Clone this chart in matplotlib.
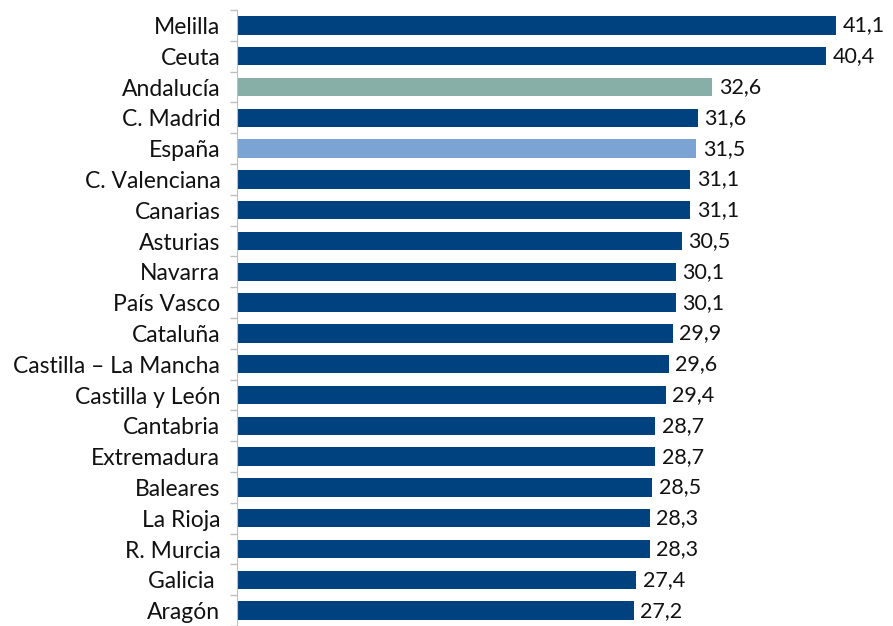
import numpy as np
import matplotlib.pyplot as plt
from matplotlib.ticker import FixedLocator

regions = ['Melilla', 'Ceuta', 'Andalucía', 'C. Madrid', 'España', 'C. Valenciana',
           'Canarias', 'Asturias', 'Navarra', 'País Vasco', 'Cataluña',
           'Castilla – La Mancha', 'Castilla y León', 'Cantabria', 'Extremadura',
           'Baleares', 'La Rioja', 'R. Murcia', 'Galicia ', 'Aragón']
values = [41.1, 40.4, 32.6, 31.6, 31.5, 31.1, 31.1, 30.5, 30.1, 30.1, 29.9,
          29.6, 29.4, 28.7, 28.7, 28.5, 28.3, 28.3, 27.4, 27.2]

navy = '#00427F'
colors = [navy] * len(regions)
colors[regions.index('Andalucía')] = '#87AEA7'
colors[regions.index('España')] = '#7BA3D3'

plt.rcParams['font.family'] = ['Lato', 'DejaVu Sans']

fig = plt.figure(figsize=(8.93, 6.26), dpi=100)
ax = fig.add_axes([237 / 893, 0.0, 1 - 237 / 893, 1 - 10 / 626])

y = np.arange(len(regions))
ax.barh(y, values, height=0.6, color=colors)
for yi, v in zip(y, values):
    ax.text(v + 0.45, yi, f'{v:.1f}'.replace('.', ','), va='center', ha='left',
            fontsize=15.5, color='#111111')

ax.set_xlim(0, 45)
ax.set_ylim(len(regions) - 0.5, -0.5)
ax.set_yticks(y)
ax.set_yticklabels(regions, fontsize=16.5, color='#111111')
ax.tick_params(axis='y', which='major', length=0, pad=12)
ax.yaxis.set_minor_locator(FixedLocator(np.arange(-0.5, len(regions), 1)))
ax.tick_params(axis='y', which='minor', length=5, color='#BFBFBF', width=1)
ax.set_xticks([])
for s in ['top', 'right', 'bottom']:
    ax.spines[s].set_visible(False)
ax.spines['left'].set_color('#BFBFBF')

fig.savefig('out.png', dpi=100)
